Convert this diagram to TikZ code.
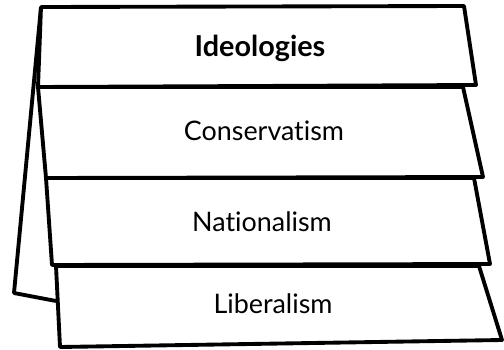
\documentclass[tikz,border=0pt]{standalone}
\usepackage{fontspec}
\setmainfont{Lato}[Ligatures=NoCommon]
\usetikzlibrary{positioning}
\tikzset{
  sheet/.style     = {draw, fill=white, line width=2.2pt, line join=round},
  sheettext/.style = {inner sep=0pt, font=\fontsize{15.3}{17}\selectfont},
  headtext/.style  = {sheettext, font=\fontsize{16.4}{18}\selectfont\bfseries}
}

\begin{document}
\begin{tikzpicture}[x=0.02cm, y=-0.02cm]  % one unit = one pixel of the sketch
  \useasboundingbox (0,0) rectangle (504,349);

  %  --  Back flap of the folded card
  \draw[sheet, fill=none] (41,7) -- (14,293) -- (56,301);

  %  --  Stacked sheets, drawn from the bottom up
  \draw[sheet] (56,266) -- (479,266) -- (502,340) -- (60,347) -- cycle;  % Liberalism
  \draw[sheet] (46,178) -- (474,178) -- (490,264) -- (52,265) -- cycle;  % Nationalism
  \draw[sheet] (38,87)  -- (463,87)  -- (483,177) -- (46,178) -- cycle;  % Conservatism
  \draw[sheet] (41,7)   -- (464,6)   -- (476,85)  -- (38,87)  -- cycle;  % header

  %  --  Texts on the sheets
  \node[headtext] (head) at (260,48) {Ideologies};
  \foreach \name/\txt/\xx/\yy in {cons/Conservatism/264/131, nat/Nationalism/262/222, lib/Liberalism/273/304}{
    \node[sheettext] (\name) at (\xx,\yy) {\txt};
  }
\end{tikzpicture}
\end{document}
